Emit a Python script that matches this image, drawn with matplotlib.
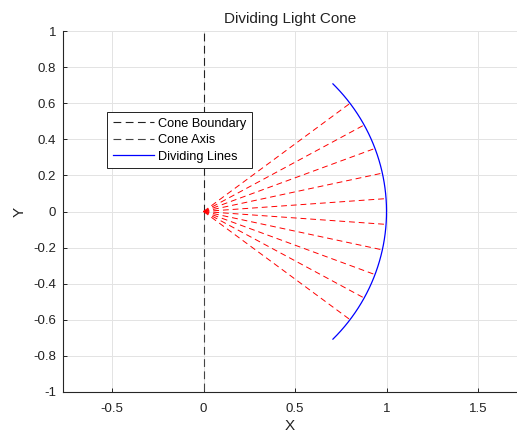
import numpy as np
import matplotlib.pyplot as plt

# cone geometry
half_angle_deg = 45
n_divisions = 11
radius = 1.0

boundary_x = [0, 0]
boundary_upper_y = [0, 1]
boundary_lower_y = [0, -1]

x_ticks = [-0.5, 0, 0.5, 1, 1.5]
x_tick_labels = ['-0.5', '0', '0.5', '1', '1.5']
y_ticks = [-1, -0.8, -0.6, -0.4, -0.2, 0, 0.2, 0.4, 0.6, 0.8, 1]
y_tick_labels = ['-1', '-0.8', '-0.6', '-0.4', '-0.2', '0', '0.2', '0.4', '0.6', '0.8', '1']

plt.rcParams['font.family'] = ['Liberation Sans', 'DejaVu Sans']

fig = plt.figure(figsize=(5.17, 4.33), dpi=100)
ax = fig.add_axes([63 / 517, 41 / 433, 1 - 63 / 517, (392 - 31) / 433])

# boundary (vertical line through apex)
ax.plot(boundary_x, boundary_upper_y, color='#222222', linestyle=(0, (7, 4)), linewidth=0.8,
        label='Cone Boundary')
ax.plot(boundary_x, boundary_lower_y, color='#444444', linestyle=(0, (7, 4)), linewidth=0.8,
        label='Cone Axis')

# arc
theta = np.linspace(-np.deg2rad(half_angle_deg), np.deg2rad(half_angle_deg), 200)
ax.plot(radius * np.cos(theta), radius * np.sin(theta), color='#0000ff', linewidth=0.9,
        label='Dividing Lines')

# dividing rays
angles = np.deg2rad(-half_angle_deg + 2 * half_angle_deg * np.arange(1, n_divisions) / n_divisions)
for a in angles:
    ax.plot([0, radius * np.cos(a)], [0, radius * np.sin(a)], color='#ff0000',
            linestyle=(0, (6, 4)), linewidth=0.7)

ax.set_xlim(-0.768, 1.713)
ax.set_ylim(-1, 1)
ax.set_xticks(x_ticks)
ax.set_xticklabels(x_tick_labels)
ax.set_yticks(y_ticks)
ax.set_yticklabels(y_tick_labels)
ax.tick_params(direction='in', length=3, width=0.7, labelsize=9.5, colors='#222222', pad=5)
ax.tick_params(axis='x', pad=8)
ax.grid(True, color='#e3e3e3', linewidth=0.7)
ax.set_axisbelow(True)
for s in ['top', 'right']:
    ax.spines[s].set_visible(False)
for s in ['left', 'bottom']:
    ax.spines[s].set_linewidth(0.8)
    ax.spines[s].set_color('#262626')

ax.set_title('Dividing Light Cone', fontsize=11, color='#222222', pad=6)
ax.set_xlabel('X', fontsize=11, color='#222222', labelpad=3)
ax.set_ylabel('Y', fontsize=11, color='#222222', rotation=90, labelpad=5)

leg = ax.legend(loc='upper left', bbox_to_anchor=(0.097, 0.776), borderaxespad=0,
                fontsize=9.2, fancybox=False, framealpha=1, edgecolor='#222222',
                handlelength=3.2, handletextpad=0.3, borderpad=0.45, labelspacing=0.35)
leg.get_frame().set_linewidth(0.7)

fig.savefig('out.png', dpi=100)
